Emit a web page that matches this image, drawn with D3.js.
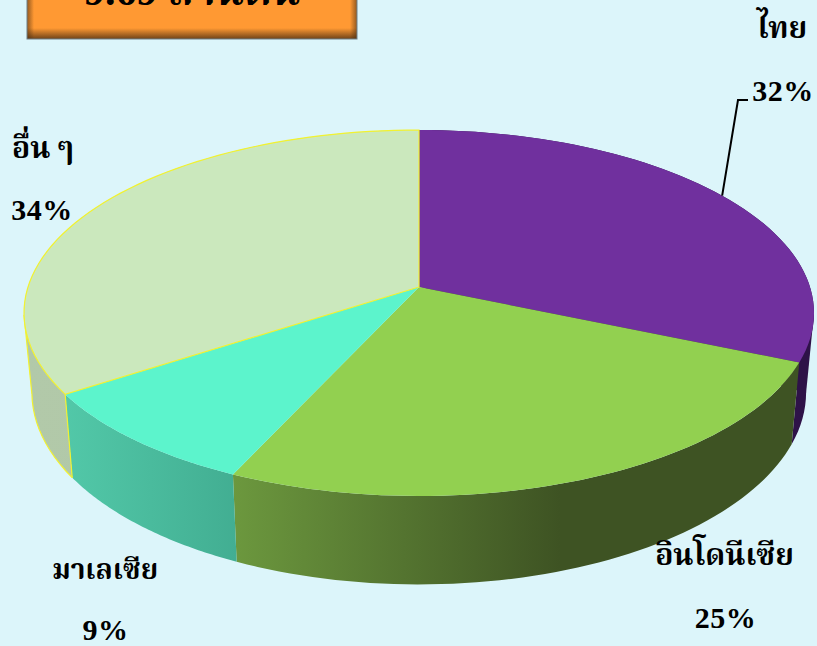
<!DOCTYPE html>
<html><head><meta charset="utf-8">
<style>html,body{margin:0;padding:0;background:#dcf5fa;overflow:hidden}svg{display:block}</style>
<script src="https://cdn.jsdelivr.net/npm/d3@7"></script></head>
<body><svg id="c" width="817" height="646"></svg>
<script>
const categories=["ไทย","อินโดนีเซีย","มาเลเซีย","อื่น ๆ"];
const values=[31.5,25.3,8.9,34.3];
const pctLabels=["32%","25%","9%","34%"];
const topColors=["#70309e","#92d050","#5cf4cc","#cbe8bd"];
const wallStops=[["#2e1248","#2e1248"],["#6c983e","#3e5323"],["#52c8a8","#42ae92"],["#b2c9a9","#aec6a6"]];
const titleText="9.69 ล้านตัน";
const W=817,H=646,cx=419,cy=287,A=391,B=179.3,p=0.142,wallX=0.98,wallY=1.05,wallY0=365;
const serif='"Liberation Serif","Noto Serif Thai","Noto Sans",serif';
const svg=d3.select("#c");
const defs=svg.append("defs");
svg.append("rect").attr("width",W).attr("height",H).attr("fill","#dcf5fa");

// orange title box
const shade=(id,x1,y1,x2,y2,o)=>{const g=defs.append("linearGradient").attr("id",id)
  .attr("x1",x1).attr("y1",y1).attr("x2",x2).attr("y2",y2);
  g.append("stop").attr("offset",0).attr("stop-color","#4a2c10").attr("stop-opacity",o);
  g.append("stop").attr("offset",1).attr("stop-color","#4a2c10").attr("stop-opacity",0);};
shade("sb",0,1,0,0,.8);shade("sl",0,0,1,0,.6);shade("sr",1,0,0,0,.6);
const box=svg.append("g");
box.append("rect").attr("x",27).attr("y",-20).attr("width",330).attr("height",59).attr("fill","#ff9933");
box.append("rect").attr("x",27).attr("y",-20).attr("width",7).attr("height",59).attr("fill","url(#sl)");
box.append("rect").attr("x",350).attr("y",-20).attr("width",7).attr("height",59).attr("fill","url(#sr)");
box.append("rect").attr("x",27).attr("y",28).attr("width",330).attr("height",11).attr("fill","url(#sb)");
box.append("rect").attr("x",27).attr("y",-20).attr("width",330).attr("height",59).attr("fill","none").attr("stroke","#6f8088").attr("stroke-width",1);
box.append("text").attr("x",192).attr("y",5).attr("text-anchor","middle").attr("font-family",serif)
  .attr("font-weight","bold").attr("font-size",42).attr("fill","#000").text(titleText);

// projection of the pie disc
const topPt=a=>{const u=Math.sin(a),v=-Math.cos(a),w=1-p*v;return [cx+A*u/w,cy+B*v/w];};
const bottomPt=a=>{const [x,y]=topPt(a);return [cx+wallX*(x-cx),wallY0+wallY*(y-cy)];};
const arcs=d3.pie().sort(null).startAngle(0).endAngle(2*Math.PI)(values);
const samples=d=>d3.range(0,61).map(i=>d.startAngle+(d.endAngle-d.startAngle)*i/60);
const line=d3.line();

// walls; the first and last slice also fill the gap up to the disc's silhouette
arcs.forEach((d,i)=>{
  const ts=samples(d),tp=ts.map(topPt),bp=ts.map(bottomPt);
  const xs=d3.extent(tp.concat(bp),q=>q[0]);
  const g=defs.append("linearGradient").attr("id","w"+i).attr("gradientUnits","userSpaceOnUse")
    .attr("x1",xs[0]).attr("x2",i===1?560:xs[1]).attr("y1",0).attr("y2",0);
  g.append("stop").attr("offset",0).attr("stop-color",wallStops[i][0]);
  g.append("stop").attr("offset",1).attr("stop-color",wallStops[i][1]);
  if(i===0||i===3){
    const pick=i===0?(a,b)=>b[0]-a[0]:(a,b)=>a[0]-b[0];
    const ta=tp[d3.scan(tp,pick)],ba=bp[d3.scan(bp,pick)];
    svg.append("path").attr("d",line([ta,ba,[cx,cy]])+"Z").attr("fill",`url(#w${i})`);
  }
  svg.append("path").attr("d",line(tp.concat(bp.slice().reverse()))+"Z").attr("fill",`url(#w${i})`);
});
// yellow outline of the last slice's wall
{
  const d=arcs[3],ts=samples(d),tp=ts.map(topPt),bp=ts.map(bottomPt);
  const ti=d3.scan(tp,(a,b)=>a[0]-b[0]),bi=d3.scan(bp,(a,b)=>a[0]-b[0]);
  const edge=svg.append("g").attr("fill","none").attr("stroke","#f2f230").attr("stroke-width",1.2);
  edge.append("path").attr("d",line(bp.slice(0,bi+1)));
  edge.append("path").attr("d",line([tp[0],bp[0]]));
  edge.append("path").attr("d",line([tp[ti],bp[bi]]));
}
// top faces
arcs.forEach((d,i)=>{
  const tp=samples(d).map(topPt);
  svg.append("path").attr("d",line([[cx,cy]].concat(tp))+"Z").attr("fill",topColors[i])
    .attr("stroke",i===3?"#f2f230":"none").attr("stroke-width",i===3?1.2:0);
});
// leader line of the first slice
const m=topPt((arcs[0].startAngle+arcs[0].endAngle)/2);
svg.append("path").attr("d",line([m,[738,100],[748,100]])).attr("fill","none").attr("stroke","#000").attr("stroke-width",2);

// labels
const catPos=[[782,38],[724.5,565],[105,579],[43,158]];
const catSize=[30,30,28,30];
const pctPos=[[783,100.5],[725.5,628],[105.5,640],[42,220]];
const lab=(t,q,s,ls)=>svg.append("text").attr("x",q[0]).attr("y",q[1]).attr("text-anchor","middle")
  .attr("font-family",serif).attr("font-weight","bold").attr("font-size",s)
  .attr("letter-spacing",ls).attr("fill","#000").text(t);
categories.forEach((c,i)=>lab(c,catPos[i],catSize[i],0));
pctLabels.forEach((c,i)=>lab(c,pctPos[i],30,0.5));
</script></body></html>
